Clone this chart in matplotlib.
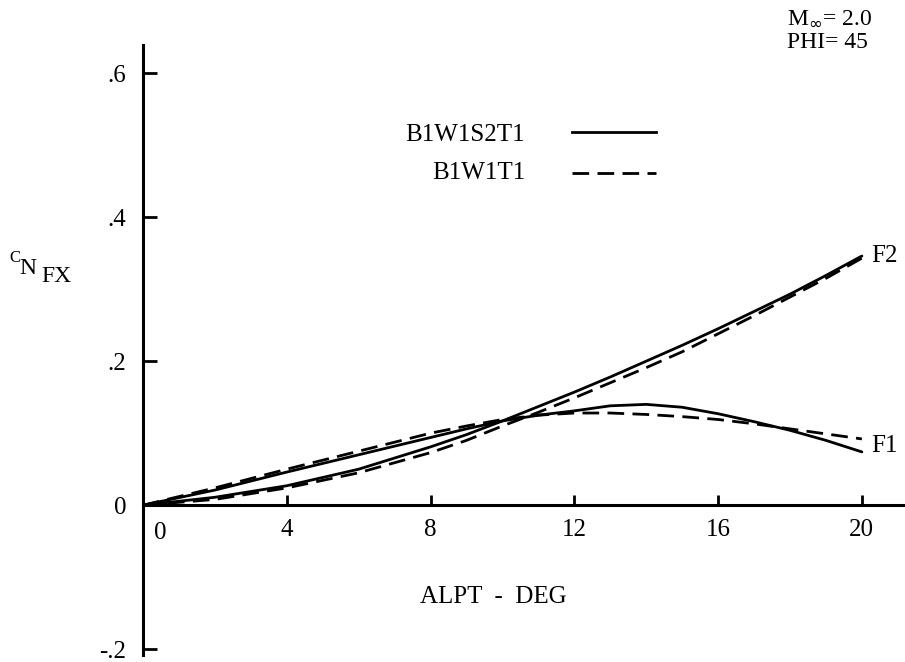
import numpy as np
import matplotlib
matplotlib.use('Agg')
import matplotlib.pyplot as plt

# values (ALPT in deg, C_NFX)
alpt = [0, 2, 4, 6, 8, 9, 10, 11, 12, 13, 14, 15, 16, 17, 18, 19, 20]
f1_s2 = [0, 0.021, 0.046, 0.070, 0.094, 0.106, 0.117, 0.125, 0.131, 0.138,
         0.140, 0.136, 0.127, 0.116, 0.104, 0.090, 0.074]
f1_t1 = [0, 0.024, 0.050, 0.075, 0.100, 0.110, 0.119, 0.125, 0.128, 0.128,
         0.126, 0.123, 0.119, 0.113, 0.106, 0.099, 0.092]
f2_s2 = [0, 0.011, 0.027, 0.050, 0.081, 0.098, 0.117, 0.137, 0.157, 0.178,
         0.200, 0.222, 0.245, 0.269, 0.293, 0.319, 0.346]
f2_t1 = [0, 0.008, 0.024, 0.045, 0.073, 0.090, 0.110, 0.129, 0.149, 0.170,
         0.191, 0.213, 0.238, 0.263, 0.289, 0.315, 0.343]

xticks = [4, 8, 12, 16, 20]
yticks = [-0.2, 0, 0.2, 0.4, 0.6]
ylabels = ['-.2', '0', '.2', '.4', '.6']

plt.rcParams['font.family'] = 'Liberation Serif'
fs = 18

fig = plt.figure(figsize=(9.05, 6.62), dpi=100)
ax = fig.add_axes([143/905, 7/662, 1 - 143/905, 610/662])

lw = 2.0
ax.plot(alpt, f1_s2, color='black', lw=lw, solid_capstyle='round')
ax.plot(alpt, f2_s2, color='black', lw=lw, solid_capstyle='round')
ax.plot(alpt, f1_t1, color='black', lw=lw, dashes=(6, 3))
ax.plot(alpt, f2_t1, color='black', lw=lw, dashes=(6, 3))

ax.set_xlim(0, 21.2)
ax.set_ylim(-0.208, 0.639)

for s in ['top', 'right']:
    ax.spines[s].set_visible(False)
ax.spines['bottom'].set_position(('data', 0))
ax.spines['left'].set_linewidth(2.2)
ax.spines['bottom'].set_linewidth(2.2)

ax.set_xticks(xticks)
ax.set_xticklabels([str(v) for v in xticks])
ax.set_yticks(yticks)
ax.set_yticklabels(ylabels)
ax.tick_params(axis='x', direction='in', length=7, width=2, pad=10, labelsize=fs)
ax.tick_params(axis='y', direction='in', length=10, width=2, pad=12, labelsize=fs)
ax.text(0.47, -0.038, '0', ha='center', va='center', fontsize=fs)

ax.text(9.75, -0.127, 'ALPT  -  DEG', ha='center', va='center', fontsize=fs)

# curve labels
ax.text(20.25, 0.346, 'F2', ha='left', va='center', fontsize=fs)
ax.text(20.25, 0.082, 'F1', ha='left', va='center', fontsize=fs)

# legend drawn by hand
fig.text(525/905, 1 - 135/662, 'B1W1S2T1', ha='right', va='center', fontsize=fs)
fig.text(525/905, 1 - 173/662, 'B1W1T1', ha='right', va='center', fontsize=fs)
fig.add_artist(plt.Line2D([572/905, 656/905], [1 - 132/662, 1 - 132/662],
                          color='black', lw=lw, transform=fig.transFigure))
fig.add_artist(plt.Line2D([572/905, 656/905], [1 - 173/662, 1 - 173/662],
                          color='black', lw=lw, dashes=(6, 3), transform=fig.transFigure))

# conditions
fig.text(787/905, 1 - 18/662, r'M$_{\infty}$= 2.0', ha='left', va='center', fontsize=17)
fig.text(787/905, 1 - 43/662, 'PHI= 45', ha='left', va='center', fontsize=17)

# y axis label C N FX
fig.text(15/905, 1 - 258/662, 'C', ha='center', va='center', fontsize=12)
fig.text(28/905, 1 - 268/662, 'N', ha='center', va='center', fontsize=17)
fig.text(56/905, 1 - 277/662, 'FX', ha='center', va='center', fontsize=17)

fig.savefig('out.png', dpi=100)
